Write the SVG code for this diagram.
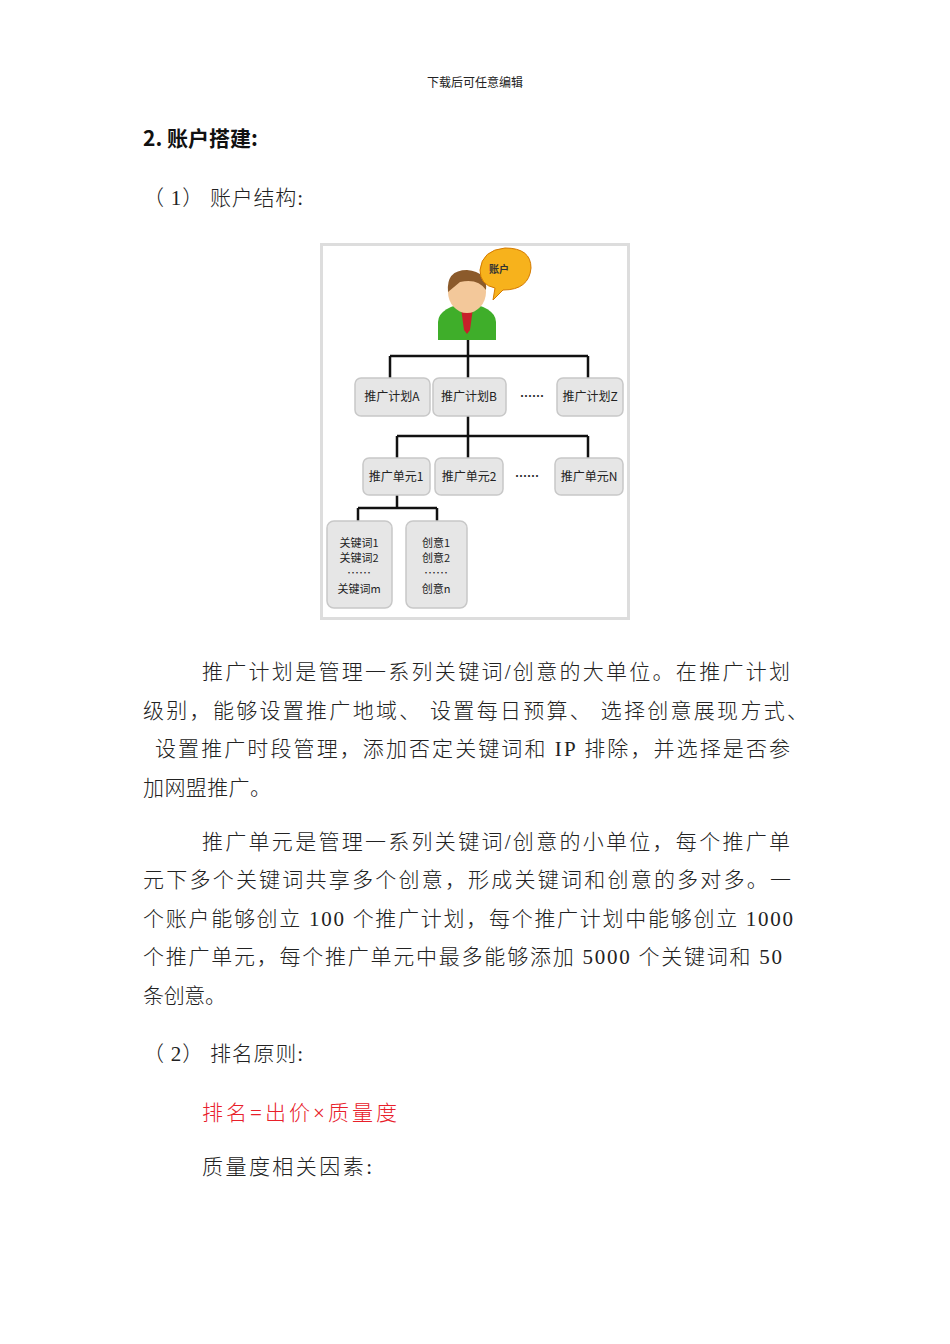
<svg xmlns="http://www.w3.org/2000/svg" width="950" height="1344" viewBox="0 0 950 1344">
<style>
.t{font-family:"Liberation Serif","Noto Sans CJK SC",serif;font-size:21px;fill:#222;font-weight:300}
.b{font-family:"Noto Sans CJK SC",sans-serif;font-size:12px;fill:#222;text-anchor:middle}
.s{font-size:11px}
.box{fill:#e6e6e6;stroke:#c8c8c8;stroke-width:1.5}
.ln{stroke:#111;stroke-width:2.5;fill:none}
</style>
<rect width="950" height="1344" fill="#fff"/>
<text x="475" y="87" font-family="Noto Sans CJK SC,sans-serif" font-size="12" text-anchor="middle" fill="#222">下载后可任意编辑</text>
<text x="143" y="146" font-family="Noto Sans CJK SC,sans-serif" font-size="21" font-weight="bold" fill="#111">2. 账户搭建:</text>
<text class="t" x="143" y="205" textLength="160">（ 1） 账户结构:</text>
<g id="frame"><rect x="321.5" y="244.5" width="307" height="374" fill="#fff" stroke="#ddd" stroke-width="3"/></g>
<g id="account">
<ellipse cx="467" cy="322" rx="29" ry="18" fill="#3fae2a"/>
<rect x="438" y="322" width="58" height="18" fill="#3fae2a"/>
<path d="M461 308 L473 308 L470 330 L467 334 L464 330 Z" fill="#c8202a"/>
<ellipse cx="467" cy="292" rx="19" ry="21" fill="#f3c89a"/>
<path d="M448 292 Q446 270 467 270 Q488 272 486 290 Q478 278 460 282 Z" fill="#8b5a2b"/>
<path d="M480 270 Q482 250 505 248 Q531 248 531 268 Q529 290 503 290 L493 300 L495 288 Q480 285 480 270 Z" fill="#f7b21c" stroke="#d47a00"/>
<text x="499" y="273" font-family="Noto Sans CJK SC,sans-serif" font-size="10" font-weight="bold" text-anchor="middle" fill="#333">账户</text>
</g>
<g id="connectors">
<path class="ln" d="M468 340 V356 M390 356 H588 M390 356 V378 M468 356 V378 M588 356 V378"/>
<path class="ln" d="M468 416 V436 M397 436 H588 M397 436 V458 M468 436 V458 M588 436 V458"/>
<path class="ln" d="M397 495 V508 M358 508 H437 M358 508 V521 M437 508 V521"/>
</g>
<g id="planA"><rect class="box" x="355" y="378" width="75" height="38" rx="6"/><text class="b" x="392" y="401">推广计划A</text></g>
<g id="planB"><rect class="box" x="433" y="378" width="73" height="38" rx="6"/><text class="b" x="469" y="401">推广计划B</text></g>
<text class="b" x="532" y="401" font-weight="bold">……</text>
<g id="planZ"><rect class="box" x="557" y="378" width="66" height="38" rx="6"/><text class="b" x="590" y="401">推广计划Z</text></g>
<g id="unit1"><rect class="box" x="363" y="458" width="67" height="37" rx="6"/><text class="b" x="396" y="481">推广单元1</text></g>
<g id="unit2"><rect class="box" x="435" y="458" width="68" height="37" rx="6"/><text class="b" x="469" y="481">推广单元2</text></g>
<text class="b" x="527" y="481" font-weight="bold">……</text>
<g id="unitN"><rect class="box" x="555" y="458" width="68" height="37" rx="6"/><text class="b" x="589" y="481">推广单元N</text></g>
<g id="keywords"><rect class="box" x="327" y="521" width="65" height="87" rx="7"/>
<text class="b s" x="359" y="547">关键词1</text><text class="b s" x="359" y="562">关键词2</text><text class="b" x="359" y="578" font-size="7">……</text><text class="b s" x="359" y="593">关键词m</text></g>
<g id="creatives"><rect class="box" x="406" y="521" width="61" height="87" rx="7"/>
<text class="b s" x="436" y="547">创意1</text><text class="b s" x="436" y="562">创意2</text><text class="b" x="436" y="578" font-size="7">……</text><text class="b s" x="436" y="593">创意n</text></g>
<text class="t" x="202" y="679" textLength="588">推广计划是管理一系列关键词/创意的大单位。在推广计划</text>
<text class="t" x="143" y="718" textLength="665">级别，能够设置推广地域、 设置每日预算、 选择创意展现方式、</text>
<text class="t" x="155" y="756" textLength="635">设置推广时段管理，添加否定关键词和 IP 排除，并选择是否参</text>
<text class="t" x="143" y="795" textLength="128">加网盟推广。</text>
<text class="t" x="202" y="849" textLength="588">推广单元是管理一系列关键词/创意的小单位，每个推广单</text>
<text class="t" x="143" y="887" textLength="648">元下多个关键词共享多个创意，形成关键词和创意的多对多。一</text>
<text class="t" x="143" y="926" textLength="650">个账户能够创立 100 个推广计划，每个推广计划中能够创立 1000</text>
<text class="t" x="143" y="964" textLength="639">个推广单元，每个推广单元中最多能够添加 5000 个关键词和 50</text>
<text class="t" x="143" y="1003" textLength="83">条创意。</text>
<text class="t" x="143" y="1061" textLength="160">（ 2） 排名原则:</text>
<text class="t" x="202" y="1120" textLength="195" style="fill:#e8202a">排名=出价×质量度</text>
<text class="t" x="202" y="1174" textLength="170">质量度相关因素:</text>
</svg>
